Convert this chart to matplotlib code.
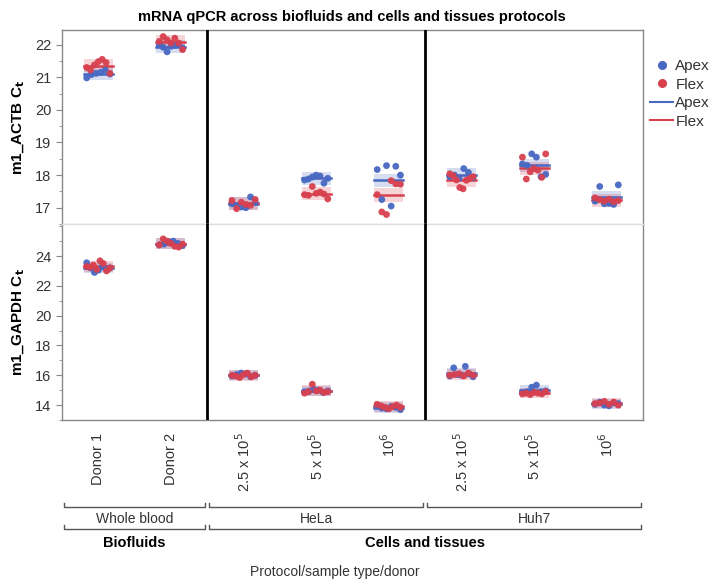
import matplotlib
matplotlib.use("Agg")
import matplotlib.pyplot as plt
import matplotlib.transforms as mtransforms
from matplotlib.lines import Line2D
import numpy as np

plt.rcParams["font.family"] = ["Liberation Sans", "DejaVu Sans"]

# categories along the x axis
CATEGORIES = ["Donor 1", "Donor 2",
              "2.5 x 10$^5$", "5 x 10$^5$", "10$^6$",
              "2.5 x 10$^5$", "5 x 10$^5$", "10$^6$"]
SAMPLE_TYPES = ["Whole blood", "HeLa", "Huh7"]
PROTOCOLS = ["Biofluids", "Cells and tissues"]

# m1_ACTB Ct values per category
ACTB_APEX = [
    [20.98, 21.08, 21.12, 21.15, 21.22, 21.10],
    [22.00, 21.92, 21.78, 21.95, 21.98, 22.02, 21.90],
    [17.12, 17.07, 17.02, 17.00, 17.33, 17.17],
    [17.85, 17.88, 17.94, 18.00, 17.97, 17.75, 17.90],
    [18.17, 17.25, 18.29, 17.05, 18.27, 18.00],
    [17.95, 18.00, 17.90, 18.20, 18.08, 17.92],
    [18.34, 18.30, 18.65, 18.55, 17.95, 18.02],
    [17.20, 17.65, 17.12, 17.13, 17.10, 17.70],
]
ACTB_FLEX = [
    [21.30, 21.22, 21.38, 21.48, 21.55, 21.45, 21.12],
    [22.10, 22.25, 22.15, 22.05, 22.20, 22.05, 21.85],
    [17.22, 16.97, 17.17, 17.10, 17.07, 17.25],
    [17.40, 17.38, 17.65, 17.44, 17.48, 17.42, 17.27],
    [17.40, 16.87, 16.79, 17.83, 17.73, 17.72],
    [18.04, 17.98, 17.85, 17.62, 17.58, 17.84, 17.90, 17.95],
    [18.55, 17.88, 18.10, 18.20, 18.15, 17.93, 18.65],
    [17.30, 17.25, 17.20, 17.26, 17.18, 17.22],
]

# m1_GAPDH Ct values per category
GAPDH_APEX = [
    [23.55, 23.20, 22.90, 23.05, 23.30, 23.15, 23.20],
    [24.75, 24.80, 24.95, 25.00, 24.85, 24.70],
    [15.95, 16.05, 16.15, 16.10, 15.90, 16.00],
    [14.90, 14.95, 15.05, 15.00, 14.85, 14.95],
    [13.95, 13.80, 13.75, 13.90, 13.85, 13.70],
    [15.95, 16.50, 16.05, 16.00, 16.60, 16.10, 15.90],
    [14.85, 14.90, 15.20, 15.34, 14.90, 14.95],
    [14.05, 14.20, 14.00, 13.95, 14.15, 14.10],
]
GAPDH_FLEX = [
    [23.30, 23.25, 23.40, 23.10, 23.68, 23.50, 23.00, 23.20],
    [24.75, 25.15, 25.00, 24.85, 24.65, 24.60, 24.80],
    [16.00, 15.95, 15.85, 16.05, 16.15, 15.90, 16.00],
    [14.80, 14.90, 15.40, 14.95, 15.00, 14.85, 14.90],
    [14.05, 13.95, 13.85, 13.75, 13.90, 14.00, 13.85],
    [16.00, 16.05, 16.10, 15.95, 16.15, 16.00],
    [14.75, 14.80, 14.70, 14.85, 14.80, 14.75, 14.90],
    [14.10, 14.15, 14.25, 14.05, 14.20, 14.00],
]

BLUE = "#4868c2"
RED = "#d8404e"
GREY = "#333333"

fig = plt.figure(figsize=(7.2, 5.81), dpi=100)
ax_top = fig.add_axes([62 / 720, 1 - 224 / 581, 581 / 720, 194 / 581])
ax_bot = fig.add_axes([62 / 720, 1 - 420 / 581, 581 / 720, 196 / 581], sharex=ax_top)


def draw_panel(ax, apex, flex, band):
    for i, (a_vals, f_vals) in enumerate(zip(apex, flex)):
        for vals, color in ((a_vals, BLUE), (f_vals, RED)):
            vals = np.asarray(vals)
            mean = vals.mean()
            ax.fill_between([i - 0.2, i + 0.2], mean - band, mean + band,
                            color=color, alpha=0.22, lw=0, zorder=1)
            ax.plot([i - 0.2, i + 0.2], [mean, mean], color=color, lw=1.8, zorder=3)
        for vals, color in ((a_vals, BLUE), (f_vals, RED)):
            offs = np.linspace(-0.16, 0.16, len(vals))
            ax.scatter(i + offs, vals, s=24, color=color, edgecolors="none",
                       zorder=4, alpha=0.95)
    for xv in (1.5, 4.5):
        ax.axvline(xv, color="black", lw=2, zorder=5)
    for side in ("top", "right", "left", "bottom"):
        ax.spines[side].set_color("#888888")
        ax.spines[side].set_linewidth(1)
    ax.tick_params(axis="y", colors="#888888", labelcolor=GREY, labelsize=10.5,
                   length=4, direction="out")
    ax.tick_params(axis="y", which="minor", colors="#888888", length=2.5)


draw_panel(ax_top, ACTB_APEX, ACTB_FLEX, 0.2)
draw_panel(ax_bot, GAPDH_APEX, GAPDH_FLEX, 0.35)

ax_top.set_xlim(-0.5, 7.5)
ax_top.set_ylim(16.55, 22.45)
ax_top.set_yticks(range(17, 23))
ax_top.set_yticks(np.arange(16.5, 22.5, 0.5), minor=True)
ax_top.spines["bottom"].set_color("#dddddd")
ax_top.tick_params(axis="x", bottom=False, labelbottom=False)

ax_bot.set_ylim(13.0, 26.15)
ax_bot.set_yticks(range(14, 25, 2))
ax_bot.set_yticks(range(13, 27), minor=True)
ax_bot.spines["top"].set_color("#dddddd")
ax_bot.set_xticks(range(len(CATEGORIES)))
ax_bot.set_xticklabels(CATEGORIES, rotation=90, va="top", ha="center")
ax_bot.tick_params(axis="x", length=0, pad=9, labelsize=10.5, labelcolor=GREY)

ax_top.set_ylabel(r"m1_ACTB C$_\mathbf{t}$", fontsize=11, fontweight="bold", labelpad=6)
ax_bot.set_ylabel(r"m1_GAPDH C$_\mathbf{t}$", fontsize=11, fontweight="bold", labelpad=6)

fig.text(352 / 720, 1 - 17 / 581, "mRNA qPCR across biofluids and cells and tissues protocols",
         ha="center", va="center", fontsize=10.5, fontweight="bold")

# grouping brackets under the x axis
trans = mtransforms.blended_transform_factory(ax_bot.transData, fig.transFigure)


def bracket(x0, x1, y_px, label, text_px, bold=False):
    y = 1 - y_px / 581
    h = 4 / 581
    ax_bot.plot([x0, x0, x1, x1], [y + h, y, y, y + h], color="#555555", lw=1,
                transform=trans, clip_on=False)
    ax_bot.text((x0 + x1) / 2, 1 - text_px / 581, label, transform=trans,
                ha="center", va="center", fontsize=10.5 if bold else 10,
                fontweight="bold" if bold else "normal",
                color="black" if bold else GREY)


bracket(-0.47, 1.47, 507, SAMPLE_TYPES[0], 519)
bracket(1.53, 4.47, 507, SAMPLE_TYPES[1], 519)
bracket(4.53, 7.47, 507, SAMPLE_TYPES[2], 519)
bracket(-0.47, 1.47, 529, PROTOCOLS[0], 543, bold=True)
bracket(1.53, 7.47, 529, PROTOCOLS[1], 543, bold=True)

fig.text(335 / 720, 1 - 572 / 581, "Protocol/sample type/donor", ha="center", va="center",
         fontsize=10, color=GREY)

handles = [
    Line2D([], [], ls="none", marker="o", ms=5.5, color=BLUE, label="Apex"),
    Line2D([], [], ls="none", marker="o", ms=5.5, color=RED, label="Flex"),
    Line2D([], [], color=BLUE, lw=1.5, label="Apex"),
    Line2D([], [], color=RED, lw=1.5, label="Flex"),
]
fig.legend(handles=handles, loc="upper left", bbox_to_anchor=(647 / 720, 1 - 56 / 581),
           frameon=False, fontsize=11, handlelength=1.5, handletextpad=0.15,
           labelspacing=0.3, borderaxespad=0, borderpad=0.2, labelcolor=GREY)

fig.savefig("out.png", dpi=100)
